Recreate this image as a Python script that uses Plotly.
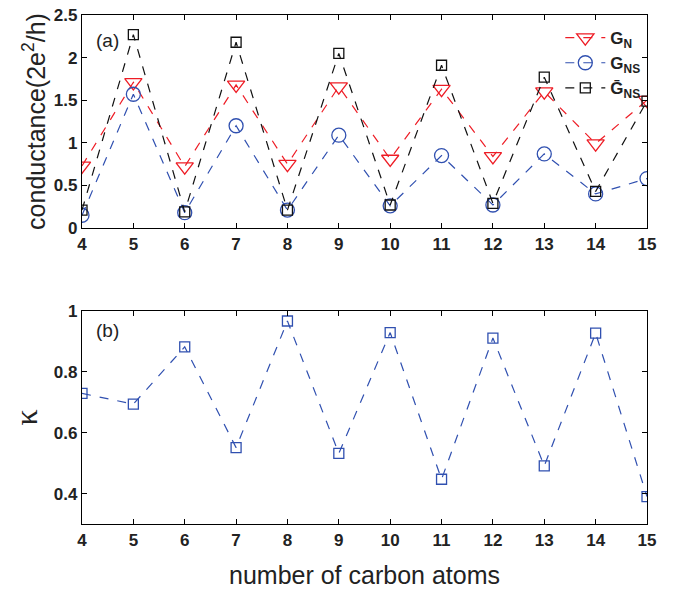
import plotly.graph_objects as go

atoms = [4, 5, 6, 7, 8, 9, 10, 11, 12, 13, 14, 15]
G_N = [0.73, 1.71, 0.72, 1.68, 0.75, 1.66, 0.81, 1.63, 0.84, 1.60, 0.99, 1.50]
G_NS = [0.15, 1.57, 0.18, 1.20, 0.21, 1.09, 0.26, 0.85, 0.27, 0.87, 0.40, 0.58]
G_NS_bar = [0.21, 2.27, 0.19, 2.18, 0.21, 2.05, 0.27, 1.91, 0.29, 1.77, 0.43, 1.49]
kappa = [0.729, 0.694, 0.882, 0.551, 0.967, 0.532, 0.929, 0.447, 0.911, 0.491, 0.927, 0.390]
y1_ticks = [0, 0.5, 1, 1.5, 2, 2.5]
y1_labels = ["0", "0.5", "1", "1.5", "2", "2.5"]
y2_ticks = [0.4, 0.6, 0.8, 1]
y2_labels = ["0.4", "0.6", "0.8", "1"]

RED = "#ee1c25"
BLUE = "#3050b0"
BLACK = "#111111"
FONT = "Liberation Sans"

def bold(lst):
    return ["<b>%s</b>" % s for s in lst]

fig = go.Figure()
fig.add_trace(go.Scatter(x=atoms, y=G_N, mode="lines+markers", name="<b>G<sub>N</sub></b>",
                         line=dict(color=RED, dash="dash", width=1.2),
                         marker=dict(symbol="triangle-down-open", size=15, color=RED, line=dict(width=1.3)),
                         xaxis="x", yaxis="y"))
fig.add_trace(go.Scatter(x=atoms, y=G_NS, mode="lines+markers", name="<b>G<sub>NS</sub></b>",
                         line=dict(color=BLUE, dash="dash", width=1.2),
                         marker=dict(symbol="circle-open", size=14, color=BLUE, line=dict(width=1.3)),
                         xaxis="x", yaxis="y"))
fig.add_trace(go.Scatter(x=atoms, y=G_NS_bar, mode="lines+markers", name="<b>G\u0304<sub>NS</sub></b>",
                         line=dict(color=BLACK, dash="dash", width=1.2),
                         marker=dict(symbol="square-open", size=10, color=BLACK, line=dict(width=1.3)),
                         xaxis="x", yaxis="y"))
fig.add_trace(go.Scatter(x=atoms, y=kappa, mode="lines+markers", name="kappa", showlegend=False,
                         line=dict(color=BLUE, dash="dash", width=1.2),
                         marker=dict(symbol="square-open", size=10, color=BLUE, line=dict(width=1.3)),
                         xaxis="x2", yaxis="y2"))

axis_common = dict(showline=True, linecolor="black", linewidth=1.2, mirror="ticks",
                   ticks="inside", ticklen=5, tickcolor="black", showgrid=False, zeroline=False,
                   automargin=False, ticklabeloverflow="allow",
                   tickfont=dict(family=FONT, size=17, color="#222"))

fig.update_layout(
    width=679, height=591,
    margin=dict(l=74, r=40, t=7, b=75),
    paper_bgcolor="white", plot_bgcolor="white",
    font=dict(family=FONT, color="#222"),
    xaxis=dict(domain=[0, 1], range=[4, 15], tickvals=atoms, ticktext=bold([str(a) for a in atoms]),
               anchor="y", **axis_common),
    yaxis=dict(domain=[0.5815, 1], range=[0, 2.5], tickvals=y1_ticks, ticktext=bold(y1_labels), anchor="x",
               title=dict(text="conductance(2e<sup>2</sup>/h)", font=dict(family=FONT, size=25, color="#222"), standoff=1),
               **axis_common),
    xaxis2=dict(domain=[0, 1], range=[4, 15], tickvals=atoms, ticktext=bold([str(a) for a in atoms]),
                anchor="y2",
                title=dict(text="number of carbon atoms", font=dict(family=FONT, size=25, color="#222"), standoff=17),
                **axis_common),
    yaxis2=dict(domain=[0, 0.4185], range=[0.3, 1], tickvals=y2_ticks, ticktext=bold(y2_labels), anchor="x2",
                title=dict(text="κ", font=dict(family="Liberation Serif", size=32, color="#222"), standoff=10),
                **axis_common),
    legend=dict(x=0.997, xanchor="right", y=0.99, yanchor="top", bgcolor="rgba(0,0,0,0)",
                font=dict(family=FONT, size=17, color="#222"), tracegroupgap=0,
                itemwidth=40),
    showlegend=True,
)

fig.add_annotation(x=0.022, y=0.975, xref="paper", yref="paper", text="(a)", showarrow=False,
                   xanchor="left", yanchor="top", font=dict(family=FONT, size=19, color="#222"))
fig.add_annotation(x=0.022, y=0.405, xref="paper", yref="paper", text="(b)", showarrow=False,
                   xanchor="left", yanchor="top", font=dict(family=FONT, size=19, color="#222"))

fig.write_html("out.html")
